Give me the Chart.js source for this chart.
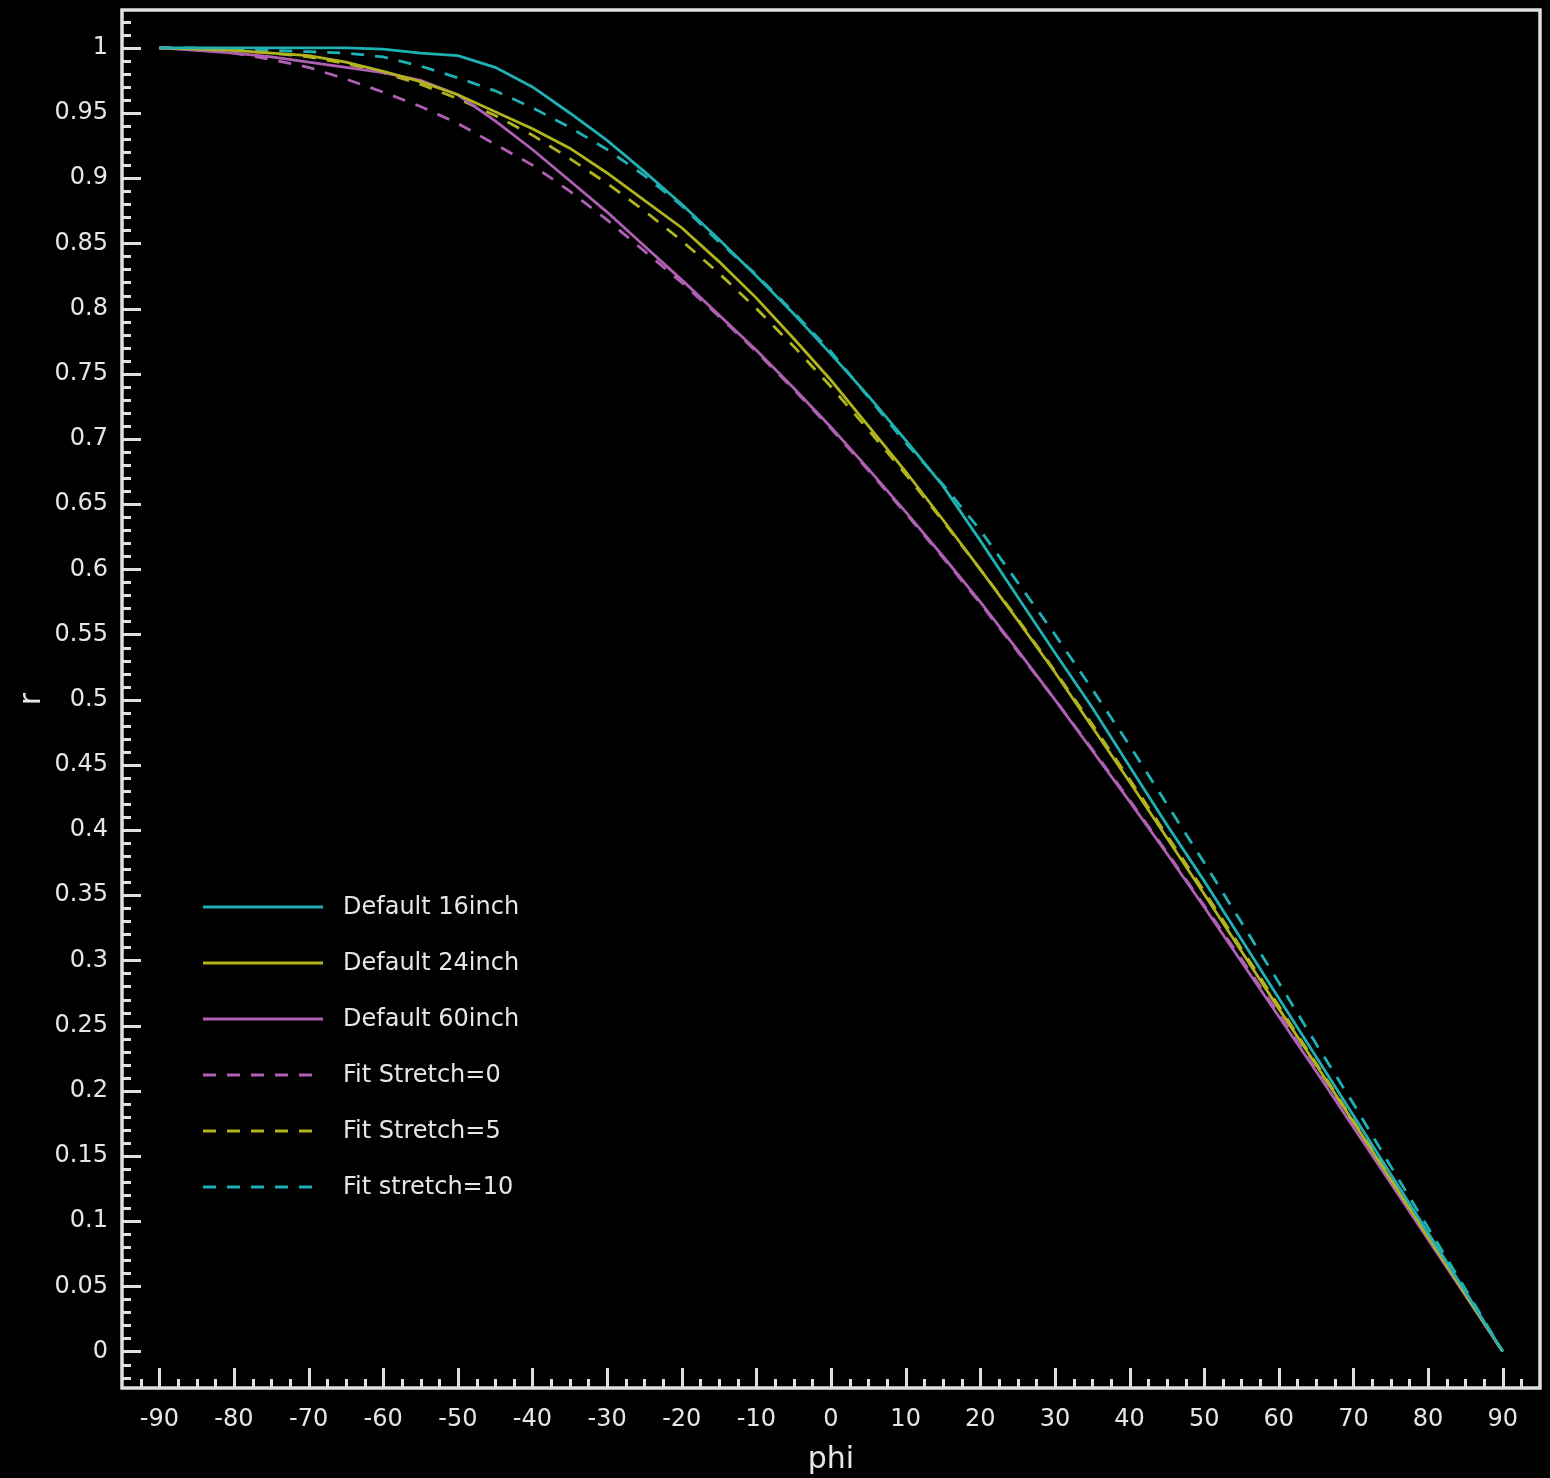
<!DOCTYPE html>
<html><head><meta charset="utf-8">
<script src="https://cdn.jsdelivr.net/npm/chart.js@4/dist/chart.umd.min.js"></script>
<style>html,body{margin:0;padding:0;background:#000;}</style>
</head><body>
<canvas id="c" width="1550" height="1478" style="display:block;width:1550px;height:1478px"></canvas>
<script>
const phi = [-90,-85,-80,-75,-70,-65,-60,-55,-50,-45,-40,-35,-30,-25,-20,-15,-10,-5,0,5,10,15,20,25,30,35,40,45,50,55,60,65,70,75,80,85,90];
const default16 = [1.000,1.000,1.000,1.000,1.000,1.000,0.999,0.996,0.994,0.985,0.970,0.950,0.929,0.905,0.880,0.853,0.825,0.796,0.765,0.733,0.699,0.664,0.622,0.579,0.536,0.494,0.449,0.404,0.361,0.316,0.271,0.226,0.181,0.136,0.091,0.046,0.000];
const default24 = [1.000,0.999,0.998,0.996,0.994,0.989,0.982,0.974,0.964,0.951,0.938,0.923,0.904,0.883,0.862,0.836,0.808,0.777,0.745,0.710,0.675,0.638,0.600,0.561,0.521,0.479,0.437,0.394,0.351,0.307,0.263,0.220,0.176,0.132,0.088,0.044,0.000];
const default60 = [1.000,0.998,0.996,0.993,0.989,0.985,0.981,0.975,0.964,0.944,0.922,0.898,0.874,0.848,0.822,0.795,0.768,0.739,0.709,0.677,0.644,0.610,0.575,0.538,0.500,0.461,0.422,0.382,0.341,0.299,0.257,0.215,0.172,0.129,0.086,0.043,0.000];
const stretch0 = [1.000,0.999,0.996,0.991,0.985,0.976,0.966,0.955,0.942,0.926,0.910,0.890,0.868,0.844,0.820,0.794,0.767,0.738,0.708,0.676,0.643,0.609,0.574,0.537,0.500,0.462,0.423,0.383,0.342,0.301,0.259,0.216,0.174,0.131,0.087,0.044,0.000];
const stretch5 = [1.000,0.999,0.998,0.996,0.993,0.988,0.981,0.972,0.961,0.948,0.933,0.915,0.896,0.875,0.852,0.827,0.800,0.771,0.740,0.707,0.673,0.637,0.600,0.562,0.522,0.481,0.439,0.396,0.353,0.309,0.265,0.221,0.177,0.133,0.089,0.044,0.000];
const stretch10 = [1.000,1.000,0.999,0.998,0.997,0.996,0.993,0.986,0.977,0.967,0.954,0.939,0.922,0.902,0.879,0.851,0.826,0.797,0.767,0.732,0.697,0.665,0.630,0.590,0.550,0.508,0.465,0.420,0.375,0.329,0.283,0.236,0.190,0.142,0.095,0.048,0.000];
const seriesLabels = ['Default 16inch','Default 24inch','Default 60inch','Fit Stretch=0','Fit Stretch=5','Fit stretch=10'];
const xTickValues = [-90,-80,-70,-60,-50,-40,-30,-20,-10,0,10,20,30,40,50,60,70,80,90];
const yTickValues = [0,0.05,0.1,0.15,0.2,0.25,0.3,0.35,0.4,0.45,0.5,0.55,0.6,0.65,0.7,0.75,0.8,0.85,0.9,0.95,1];

const TEAL = '#1fb0b4', OLIVE = '#b2b41e', MAG = '#b060b4';
const FONT = 'DejaVu Sans';
const TXT = '#e6e6e6';

function pts(arr){ return phi.map((p,i)=>({x:p,y:arr[i]})); }
function ds(label, arr, color, dashed){
  return {label, data: pts(arr), borderColor: color, backgroundColor: color,
    borderWidth: 2.8, borderDash: dashed ? [13,11] : [], pointRadius: 0, tension: 0, fill: false};
}

const frameAndTicks = {
  id: 'frameAndTicks',
  beforeDraw(chart){
    const ctx = chart.ctx; ctx.save(); ctx.fillStyle = '#000';
    ctx.fillRect(0,0,chart.width,chart.height); ctx.restore();
  },
  afterDraw(chart){
    const {ctx, chartArea: a, scales:{x,y}} = chart;
    ctx.save();
    ctx.strokeStyle = '#e0e0e0';
    ctx.lineWidth = 3;
    for (let v = -95; v <= 95.001; v += 2.5){
      const px = Math.round(x.getPixelForValue(v)) + 0.5;
      if (px <= a.left + 2 || px >= a.right - 2) continue;
      const major = Math.abs(v % 10) < 1e-6;
      const len = major ? 20 : 9;
      ctx.beginPath(); ctx.moveTo(px, a.bottom); ctx.lineTo(px, a.bottom - len); ctx.stroke();
    }
    for (let k = -3; k <= 103; k++){
      const v = k/100;
      const py = Math.round(y.getPixelForValue(v)) + 0.5;
      if (py <= a.top + 2 || py >= a.bottom - 2) continue;
      const major = k % 5 === 0;
      const len = major ? 19 : 9;
      ctx.beginPath(); ctx.moveTo(a.left, py); ctx.lineTo(a.left + len, py); ctx.stroke();
    }
    ctx.lineWidth = 3.5;
    ctx.strokeRect(a.left, a.top, a.right - a.left, a.bottom - a.top);
    const lx0 = a.left + 81, lx1 = a.left + 201, tx = a.left + 221;
    ctx.font = '24px "' + FONT + '"';
    ctx.textBaseline = 'middle';
    ctx.textAlign = 'left';
    chart.data.datasets.forEach((d, i) => {
      const yy = 907 + i*56;
      ctx.save();
      ctx.strokeStyle = d.borderColor;
      ctx.lineWidth = 2.8;
      ctx.setLineDash(d.borderDash || []);
      ctx.beginPath(); ctx.moveTo(lx0, yy); ctx.lineTo(d.borderDash && d.borderDash.length ? lx1 - 8 : lx1, yy); ctx.stroke();
      ctx.restore();
      ctx.fillStyle = TXT;
      ctx.fillText(d.label, tx, yy + 1);
    });
    ctx.restore();
  }
};

new Chart(document.getElementById('c'), {
  type: 'line',
  data: { datasets: [
    ds(seriesLabels[0], default16, TEAL, false),
    ds(seriesLabels[1], default24, OLIVE, false),
    ds(seriesLabels[2], default60, MAG, false),
    ds(seriesLabels[3], stretch0, MAG, true),
    ds(seriesLabels[4], stretch5, OLIVE, true),
    ds(seriesLabels[5], stretch10, TEAL, true)
  ]},
  options: {
    responsive: false, animation: false, devicePixelRatio: 1,
    layout: { padding: { left: 0, right: 10, top: 10, bottom: 0 } },
    plugins: { legend: { display: false }, tooltip: { enabled: false } },
    scales: {
      x: {
        type: 'linear', min: -95, max: 95,
        grid: { display: false, drawTicks: false }, border: { display: false },
        afterBuildTicks: s => { s.ticks = xTickValues.map(v => ({value: v})); },
        afterFit: s => { s.height = 90; s.paddingLeft = 0; s.paddingRight = 0; },
        ticks: { color: TXT, font: { family: FONT, size: 24 }, padding: 17, maxRotation: 0, autoSkip: false,
          callback: v => String(v) },
        title: { display: true, text: 'phi', color: TXT, font: { family: FONT, size: 30 }, padding: { top: 0, bottom: 0 } }
      },
      y: {
        type: 'linear', min: -0.028, max: 1.029,
        grid: { display: false, drawTicks: false }, border: { display: false },
        afterBuildTicks: s => { s.ticks = yTickValues.map(v => ({value: v})); },
        afterFit: s => { s.width = 122; s.paddingTop = 0; s.paddingBottom = 0; },
        ticks: { color: TXT, font: { family: FONT, size: 24 }, padding: 14, autoSkip: false,
          callback: v => String(Number(v.toFixed(2))) },
        title: { display: true, text: 'r', color: TXT, font: { family: FONT, size: 30 }, padding: { top: 14, bottom: 0 } }
      }
    }
  },
  plugins: [frameAndTicks]
});
</script>
</body></html>
